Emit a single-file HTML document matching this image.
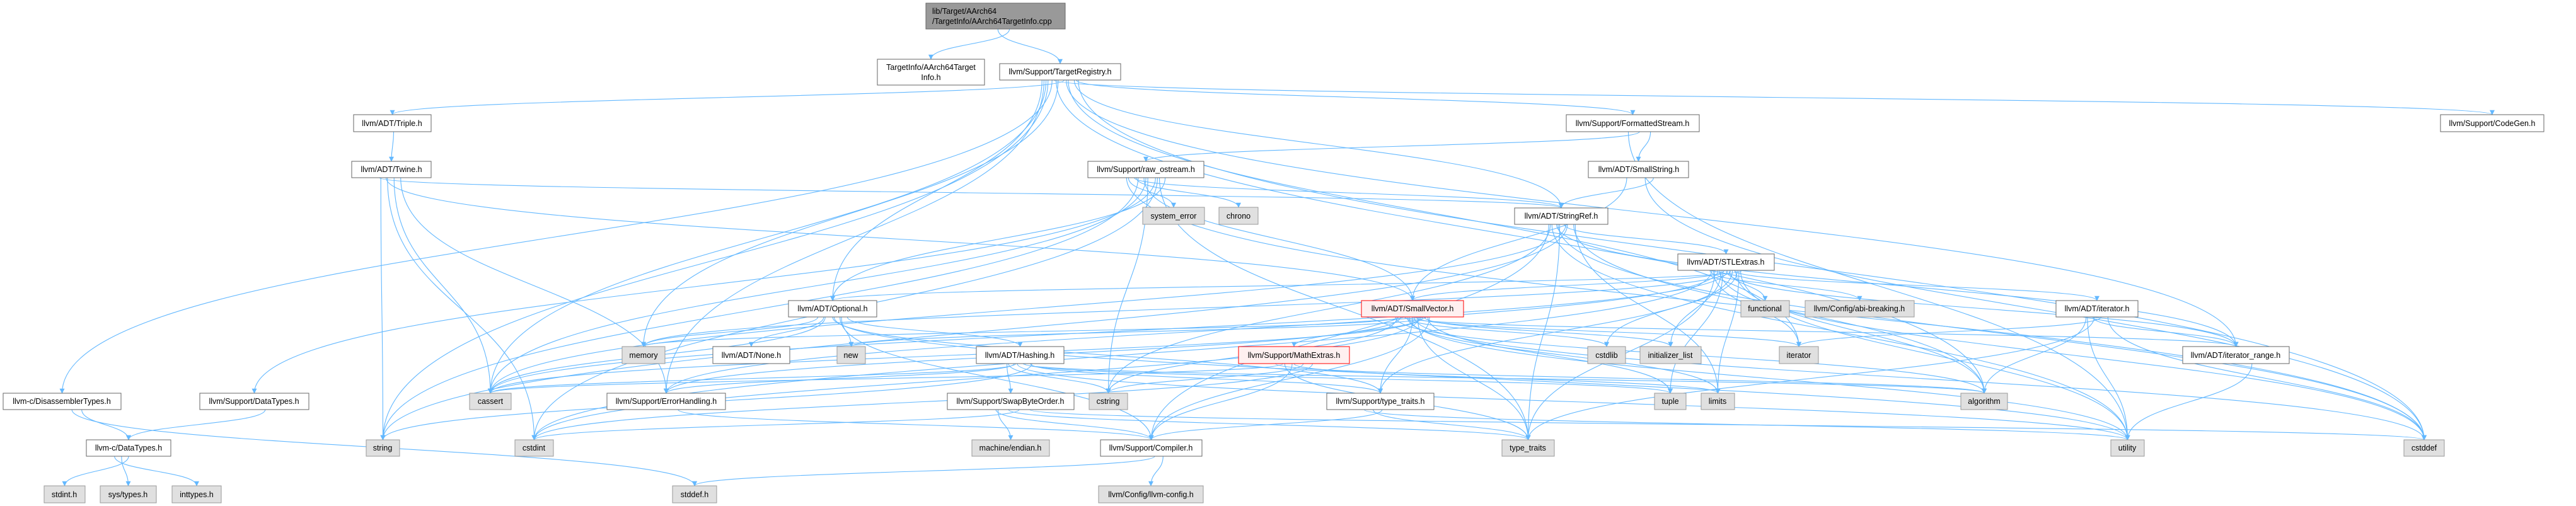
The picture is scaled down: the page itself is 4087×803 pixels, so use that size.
<!DOCTYPE html>
<html><head><meta charset="utf-8">
<style>
html,body{margin:0;padding:0;background:#fff;width:4087px;height:803px;overflow:hidden}
svg{display:block}
text{font-family:"Liberation Sans",Arial,sans-serif;font-size:12.5px;fill:#000}
</style></head><body>
<svg id="g" width="4087" height="803" viewBox="0 0 4087 803" xmlns="http://www.w3.org/2000/svg">
<defs><marker id="a" viewBox="0 0 10 10" refX="9" refY="5" markerWidth="10" markerHeight="8" markerUnits="userSpaceOnUse" orient="auto"><path d="M0,0 L10,5 L0,10 z" fill="#63b8ff"/></marker></defs>
<g id="edges" fill="none" stroke="#63b8ff" stroke-width="1.1"></g>
<g id="nodes" stroke-width="1">
<rect x="1469" y="5" width="221" height="41" fill="#999" stroke="#666"/>
<text x="1479" y="22">lib/Target/AArch64</text><text x="1479" y="38">/TargetInfo/AArch64TargetInfo.cpp</text>
<rect x="1392" y="94" width="170" height="41" fill="#fff" stroke="#666"/>
<text x="1477" y="111" text-anchor="middle">TargetInfo/AArch64Target</text><text x="1477" y="127" text-anchor="middle">Info.h</text>
<rect x="1586" y="101" width="192" height="26" fill="#fff" stroke="#666"/><text x="1682" y="118" text-anchor="middle">llvm/Support/TargetRegistry.h</text>
<rect x="1726" y="256" width="184" height="26" fill="#fff" stroke="#666"/><text x="1818" y="273" text-anchor="middle">llvm/Support/raw_ostream.h</text>
<rect x="1813" y="329" width="98" height="27" fill="#e0e0e0" stroke="#999"/><text x="1862" y="347" text-anchor="middle">system_error</text>
<rect x="1934" y="329" width="62" height="27" fill="#e0e0e0" stroke="#999"/><text x="1965" y="347" text-anchor="middle">chrono</text>
<rect x="561" y="182" width="123" height="27" fill="#fff" stroke="#666"/><text x="622" y="200" text-anchor="middle">llvm/ADT/Triple.h</text>
<rect x="558" y="256" width="126" height="26" fill="#fff" stroke="#666"/><text x="621" y="273" text-anchor="middle">llvm/ADT/Twine.h</text>
<rect x="2485" y="182" width="211" height="27" fill="#fff" stroke="#666"/><text x="2590" y="200" text-anchor="middle">llvm/Support/FormattedStream.h</text>
<rect x="2520" y="256" width="159" height="26" fill="#fff" stroke="#666"/><text x="2600" y="273" text-anchor="middle">llvm/ADT/SmallString.h</text>
<rect x="2403" y="330" width="148" height="26" fill="#fff" stroke="#666"/><text x="2477" y="347" text-anchor="middle">llvm/ADT/StringRef.h</text>
<rect x="3872" y="182" width="164" height="27" fill="#fff" stroke="#666"/><text x="3954" y="200" text-anchor="middle">llvm/Support/CodeGen.h</text>
<rect x="5" y="624" width="187" height="26" fill="#fff" stroke="#666"/><text x="98" y="641" text-anchor="middle">llvm-c/DisassemblerTypes.h</text>
<rect x="317" y="624" width="173" height="26" fill="#fff" stroke="#666"/><text x="403" y="641" text-anchor="middle">llvm/Support/DataTypes.h</text>
<rect x="745" y="624" width="66" height="26" fill="#e0e0e0" stroke="#999"/><text x="778" y="641" text-anchor="middle">cassert</text>
<rect x="963" y="624" width="188" height="26" fill="#fff" stroke="#666"/><text x="1057" y="641" text-anchor="middle">llvm/Support/ErrorHandling.h</text>
<rect x="987" y="550" width="68" height="27" fill="#e0e0e0" stroke="#999"/><text x="1021" y="568" text-anchor="middle">memory</text>
<rect x="137" y="698" width="134" height="26" fill="#fff" stroke="#666"/><text x="204" y="715" text-anchor="middle">llvm-c/DataTypes.h</text>
<rect x="581" y="698" width="53" height="26" fill="#e0e0e0" stroke="#999"/><text x="607" y="715" text-anchor="middle">string</text>
<rect x="817" y="698" width="61" height="26" fill="#e0e0e0" stroke="#999"/><text x="847" y="715" text-anchor="middle">cstdint</text>
<rect x="70" y="771" width="65" height="27" fill="#e0e0e0" stroke="#999"/><text x="102" y="789" text-anchor="middle">stdint.h</text>
<rect x="159" y="771" width="89" height="27" fill="#e0e0e0" stroke="#999"/><text x="203" y="789" text-anchor="middle">sys/types.h</text>
<rect x="273" y="771" width="78" height="27" fill="#e0e0e0" stroke="#999"/><text x="312" y="789" text-anchor="middle">inttypes.h</text>
<rect x="1251" y="477" width="140" height="26" fill="#fff" stroke="#666"/><text x="1321" y="494" text-anchor="middle">llvm/ADT/Optional.h</text>
<rect x="1131" y="550" width="122" height="27" fill="#fff" stroke="#666"/><text x="1192" y="568" text-anchor="middle">llvm/ADT/None.h</text>
<rect x="1328" y="550" width="45" height="27" fill="#e0e0e0" stroke="#999"/><text x="1350" y="568" text-anchor="middle">new</text>
<rect x="1549" y="550" width="139" height="27" fill="#fff" stroke="#666"/><text x="1618" y="568" text-anchor="middle">llvm/ADT/Hashing.h</text>
<rect x="1965" y="550" width="176" height="27" fill="#fff0f0" stroke="#f00"/><text x="2053" y="568" text-anchor="middle">llvm/Support/MathExtras.h</text>
<rect x="1503" y="624" width="201" height="26" fill="#fff" stroke="#666"/><text x="1603" y="641" text-anchor="middle">llvm/Support/SwapByteOrder.h</text>
<rect x="1728" y="624" width="61" height="26" fill="#e0e0e0" stroke="#999"/><text x="1758" y="641" text-anchor="middle">cstring</text>
<rect x="1542" y="698" width="123" height="26" fill="#e0e0e0" stroke="#999"/><text x="1603" y="715" text-anchor="middle">machine/endian.h</text>
<rect x="1746" y="698" width="161" height="26" fill="#fff" stroke="#666"/><text x="1826" y="715" text-anchor="middle">llvm/Support/Compiler.h</text>
<rect x="1067" y="771" width="70" height="27" fill="#e0e0e0" stroke="#999"/><text x="1102" y="789" text-anchor="middle">stddef.h</text>
<rect x="1743" y="771" width="166" height="27" fill="#e0e0e0" stroke="#999"/><text x="1826" y="789" text-anchor="middle">llvm/Config/llvm-config.h</text>
<rect x="2662" y="403" width="153" height="26" fill="#fff" stroke="#666"/><text x="2738" y="420" text-anchor="middle">llvm/ADT/STLExtras.h</text>
<rect x="2160" y="477" width="162" height="26" fill="#fff0f0" stroke="#f00"/><text x="2241" y="494" text-anchor="middle">llvm/ADT/SmallVector.h</text>
<rect x="2762" y="477" width="77" height="26" fill="#e0e0e0" stroke="#999"/><text x="2800" y="494" text-anchor="middle">functional</text>
<rect x="2864" y="477" width="173" height="26" fill="#e0e0e0" stroke="#999"/><text x="2950" y="494" text-anchor="middle">llvm/Config/abi-breaking.h</text>
<rect x="2519" y="550" width="60" height="27" fill="#e0e0e0" stroke="#999"/><text x="2549" y="568" text-anchor="middle">cstdlib</text>
<rect x="2602" y="550" width="97" height="27" fill="#e0e0e0" stroke="#999"/><text x="2650" y="568" text-anchor="middle">initializer_list</text>
<rect x="2823" y="550" width="62" height="27" fill="#e0e0e0" stroke="#999"/><text x="2854" y="568" text-anchor="middle">iterator</text>
<rect x="2105" y="624" width="170" height="26" fill="#fff" stroke="#666"/><text x="2190" y="641" text-anchor="middle">llvm/Support/type_traits.h</text>
<rect x="2625" y="624" width="50" height="26" fill="#e0e0e0" stroke="#999"/><text x="2650" y="641" text-anchor="middle">tuple</text>
<rect x="2699" y="624" width="53" height="26" fill="#e0e0e0" stroke="#999"/><text x="2725" y="641" text-anchor="middle">limits</text>
<rect x="2383" y="698" width="83" height="26" fill="#e0e0e0" stroke="#999"/><text x="2424" y="715" text-anchor="middle">type_traits</text>
<rect x="3262" y="477" width="130" height="26" fill="#fff" stroke="#666"/><text x="3327" y="494" text-anchor="middle">llvm/ADT/iterator.h</text>
<rect x="3463" y="550" width="169" height="27" fill="#fff" stroke="#666"/><text x="3547" y="568" text-anchor="middle">llvm/ADT/iterator_range.h</text>
<rect x="3111" y="624" width="74" height="26" fill="#e0e0e0" stroke="#999"/><text x="3148" y="641" text-anchor="middle">algorithm</text>
<rect x="3349" y="698" width="53" height="26" fill="#e0e0e0" stroke="#999"/><text x="3375" y="715" text-anchor="middle">utility</text>
<rect x="3814" y="698" width="64" height="26" fill="#e0e0e0" stroke="#999"/><text x="3846" y="715" text-anchor="middle">cstddef</text>
</g>
</svg>
<script>
var N={root:[1469,5,1690,46],A64:[1392,94,1562,135],TR:[1586,101,1778,127],RO:[1726,256,1910,282],SE:[1813,329,1911,356],CH:[1934,329,1996,356],
Tr:[561,182,684,209],Tw:[558,256,684,282],FS:[2485,182,2696,209],SS:[2520,256,2679,282],SR:[2403,330,2551,356],CG:[3872,182,4036,209],
DT:[5,624,192,650],SDT:[317,624,490,650],cassert:[745,624,811,650],EH:[963,624,1151,650],memory:[987,550,1055,577],CDT:[137,698,271,724],
string:[581,698,634,724],cstdint:[817,698,878,724],stdint:[70,771,135,798],systypes:[159,771,248,798],inttypes:[273,771,351,798],
Opt:[1251,477,1391,503],None:[1131,550,1253,577],new:[1328,550,1373,577],Hash:[1549,550,1688,577],Math:[1965,550,2141,577],
Swap:[1503,624,1704,650],cstring:[1728,624,1789,650],endian:[1542,698,1665,724],Comp:[1746,698,1907,724],stddef:[1067,771,1137,798],
cfg:[1743,771,1909,798],STL:[2662,403,2815,429],SV:[2160,477,2322,503],func:[2762,477,2839,503],abi:[2864,477,3037,503],
cstdlib:[2519,550,2579,577],init:[2602,550,2699,577],iter:[2823,550,2885,577],STT:[2105,624,2275,650],tuple:[2625,624,2675,650],
limits:[2699,624,2752,650],tt:[2383,698,2466,724],ITH:[3262,477,3392,503],IR:[3463,550,3632,577],alg:[3111,624,3185,650],
util:[3349,698,3402,724],cstddef:[3814,698,3878,724]};
var E={root:["A64","TR"],
TR:["DT","Opt","SR","Tr","CG","EH","FS","IR","alg","cassert","cstddef","iter","memory","string"],
DT:["CDT","stddef"],CDT:["stdint","systypes","inttypes"],SDT:["CDT"],Tr:["Tw"],
Tw:["SV","SR","EH","cassert","cstdint","string"],FS:["SS","RO","util"],SS:["SV","SR","cstddef"],
RO:["SV","SR","Opt","SDT","cassert","CH","cstddef","cstdint","cstring","string","SE","tt"],
SR:["STL","IR","Comp","alg","cassert","cstddef","cstring","limits","string","tt","util"],
STL:["Opt","ITH","IR","EH","abi","alg","cassert","cstddef","cstdint","cstdlib","func","init","iter","limits","memory","tuple","tt","util","STT","SV"],
Opt:["None","Hash","Comp","STT","cassert","memory","new","util"],
Hash:["EH","Swap","STT","alg","cassert","cstring","string","tuple","util"],
Swap:["Comp","cstddef","cstdint","tt","endian"],
SV:["Comp","Math","STT","IR","alg","cassert","cstddef","cstdlib","cstring","init","iter","limits","memory","new","tt","util","EH","tuple","cstdint"],
Math:["Comp","cassert","cstdint","cstring","limits","tt","alg"],
EH:["Comp"],STT:["Comp","tt","util"],Comp:["cfg","stddef"],
ITH:["IR","alg","cstddef","iter","tt","util"],IR:["util"]};
var g=document.getElementById("edges"),s="",i=0;
for(var k in E){E[k].forEach(function(t){var a=N[k],b=N[t];if(!a||!b)return;i++;
var sx=(a[0]+a[2])/2,sy=a[3],tx=(b[0]+b[2])/2,ty=b[1],d;
var off=((i*37)%21-10)*((a[2]-a[0])/60);sx+=off;if(sx<a[0]+4)sx=a[0]+4;if(sx>a[2]-4)sx=a[2]-4;
if(ty>sy+5){var m=(sy+ty)/2;d="M"+sx+","+sy+" C"+sx+","+m+" "+tx+","+m+" "+tx+","+ty;}
else{var sy2=(a[1]+a[3])/2,ty2=(b[1]+b[3])/2;if(b[0]>a[2]){sx=a[2];tx=b[0];}else{sx=a[0];tx=b[2];}
var mx=(sx+tx)/2;d="M"+sx+","+sy2+" C"+mx+","+sy2+" "+mx+","+ty2+" "+tx+","+ty2;}
s+='<path d="'+d+'" marker-end="url(#a)"/>';});}
g.innerHTML=s;
</script>
</body></html>
